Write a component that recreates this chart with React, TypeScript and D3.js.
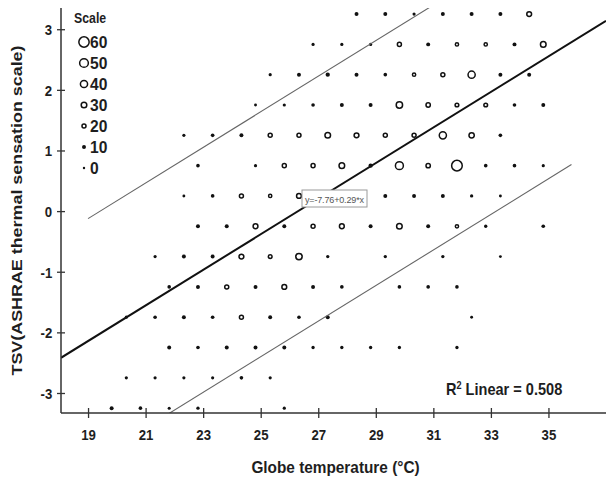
import React, { useEffect, useRef } from 'react';
import * as d3 from 'd3';

// axis ticks
const xTicks = [19, 21, 23, 25, 27, 29, 31, 33, 35];
const yTicks = [-3, -2, -1, 0, 1, 2, 3];
const legendValues = [60, 50, 40, 30, 20, 10, 0];

// binned scatter: one TSV level per row, with the bin temperatures and counts
const tsvRows = [3.25, 2.75, 2.25, 1.75, 1.25, 0.75, 0.25, -0.25, -0.75, -1.25, -1.75, -2.25, -2.75, -3.25];
const rowTemps = [
  [28.33, 29.33, 30.33, 31.33, 32.33, 33.33, 34.33],
  [26.82, 27.82, 28.82, 29.82, 30.82, 31.82, 32.82, 33.82, 34.82],
  [25.33, 26.33, 27.33, 28.33, 29.33, 30.33, 31.33, 32.33, 33.33, 34.33],
  [24.82, 25.82, 26.82, 27.82, 28.82, 29.82, 30.82, 31.82, 32.82, 33.82, 34.82],
  [22.33, 23.33, 24.33, 25.33, 26.33, 27.33, 28.33, 29.33, 30.33, 31.33, 32.33, 33.33],
  [22.82, 24.82, 25.82, 26.82, 27.82, 28.82, 29.82, 30.82, 31.82, 32.82, 33.82, 34.82],
  [22.33, 23.33, 24.33, 25.33, 26.33, 29.33, 30.33, 31.33, 32.33, 33.33],
  [22.82, 23.82, 24.82, 25.82, 26.82, 27.82, 28.82, 29.82, 30.82, 31.82, 32.82, 34.82],
  [21.33, 22.33, 23.33, 24.33, 25.33, 26.33, 27.33, 29.33, 31.33, 33.33],
  [21.82, 22.82, 23.82, 24.82, 25.82, 26.82, 27.82, 29.82, 30.82, 31.82],
  [20.33, 21.33, 22.33, 23.33, 24.33, 25.33, 26.33, 27.33, 32.33],
  [21.82, 22.82, 23.82, 24.82, 25.82, 26.82, 27.82, 28.82, 29.82, 31.82],
  [20.33, 21.33, 22.33, 23.33, 24.33, 25.33],
  [19.82, 20.82, 21.82, 22.82, 25.82],
];
const rowCounts = [
  [10, 10, 5, 10, 10, 10, 25],
  [5, 5, 5, 20, 10, 15, 15, 10, 30],
  [5, 10, 12, 10, 8, 15, 20, 40, 10, 10],
  [3, 5, 8, 10, 10, 35, 22, 18, 18, 8, 10],
  [5, 8, 10, 20, 20, 30, 25, 20, 20, 40, 28, 8],
  [8, 5, 20, 20, 30, 12, 45, 22, 62, 8, 8, 5],
  [3, 8, 20, 15, 25, 10, 10, 10, 6, 3],
  [10, 10, 25, 10, 20, 25, 10, 30, 10, 15, 6, 8],
  [5, 10, 10, 25, 18, 35, 6, 6, 6, 3],
  [8, 10, 20, 10, 25, 10, 8, 8, 8, 8],
  [5, 8, 10, 8, 20, 10, 8, 10, 3],
  [10, 8, 10, 10, 10, 6, 6, 6, 6, 6],
  [5, 5, 5, 5, 8, 5],
  [10, 8, 4, 6, 5],
];

// linear fit and the +/- band drawn around it
const fitIntercept = -7.72;
const fitSlope = 0.2935;
const bandOffset = 2.02;
const bandRange = [19.0, 35.8];
const equationLabel = 'y=-7.76+0.29*x';

const FONT = '"Liberation Sans", Arial, sans-serif';
const SX = 0.88; // the source text is horizontally condensed

const App = () => {
  const ref = useRef<SVGSVGElement | null>(null);

  useEffect(() => {
    if (!ref.current) return;
    const svg = d3.select(ref.current);
    svg.selectAll('*').remove();

    const left = 61, right = 606, top = 8, bottom = 413;
    const x = d3.scaleLinear().domain([18.06, 37.0]).range([left, right]);
    const y = d3.scaleLinear().domain([-3.33, 3.35]).range([bottom, top]);
    const rOut = d3.scaleLinear().domain([0, 60]).range([1.2, 5.9]);

    svg.append('defs').append('clipPath').attr('id', 'plot-clip')
      .append('rect').attr('x', left).attr('y', top)
      .attr('width', right - left).attr('height', bottom - top);

    // condensed bold label
    const label = (sel, tx, ty, str, size, sx = SX, anchor = 'start') =>
      sel.append('text').attr('transform', `translate(${tx},${ty}) scale(${sx},1)`)
        .attr('text-anchor', anchor)
        .style('font-family', FONT).style('font-size', `${size}px`).style('font-weight', 'bold')
        .attr('fill', '#1e1e1e').text(str);

    const drawMark = (sel, cx, cy, n) => {
      const ro = rOut(n);
      if (n < 14) {
        sel.append('circle').attr('cx', cx).attr('cy', cy).attr('r', ro).attr('fill', '#111');
      } else {
        sel.append('circle').attr('cx', cx).attr('cy', cy).attr('r', ro - 0.75)
          .attr('fill', 'none').attr('stroke', '#111').attr('stroke-width', 1.5);
      }
    };

    // points
    const points = tsvRows.flatMap((t, i) =>
      rowTemps[i].map((g, j) => ({ g, t, n: rowCounts[i][j] })));
    const gPts = svg.append('g');
    points.forEach(p => drawMark(gPts, x(p.g), y(p.t), p.n));

    // lines
    const gLines = svg.append('g').attr('clip-path', 'url(#plot-clip)');
    const line = d3.line<number>().x(d => x(d)).y(d => y(fitIntercept + fitSlope * d));
    gLines.append('path').datum(x.domain()).attr('d', line)
      .attr('fill', 'none').attr('stroke', '#111').attr('stroke-width', 2);
    [bandOffset, -bandOffset].forEach(off => {
      const l = d3.line<number>().x(d => x(d)).y(d => y(fitIntercept + off + fitSlope * d));
      gLines.append('path').datum(bandRange).attr('d', l)
        .attr('fill', 'none').attr('stroke', '#666').attr('stroke-width', 1.1);
    });

    // equation label
    const gEq = svg.append('g');
    gEq.append('rect').attr('x', 302).attr('y', 190).attr('width', 65).attr('height', 17)
      .attr('fill', '#fff').attr('stroke', '#9a9a9a').attr('stroke-width', 1);
    gEq.append('text').attr('x', 305).attr('y', 202.5).attr('textLength', 59)
      .style('font-family', FONT).style('font-size', '9px')
      .attr('fill', '#555').text(equationLabel);

    // axes
    const axisColor = '#333';
    const yAxis = svg.append('g').attr('transform', `translate(${left},0)`)
      .call(d3.axisLeft(y).tickValues(yTicks).tickSize(4).tickPadding(6).tickFormat(d3.format('d')));
    yAxis.select('.domain').remove();
    yAxis.selectAll('.tick line').attr('x1', 4).attr('stroke', axisColor).attr('stroke-width', 1.3);
    yAxis.selectAll('text').style('font-family', FONT).style('font-size', '15px')
      .style('font-weight', 'bold').attr('fill', '#1e1e1e').attr('dy', '0.36em')
      .attr('transform', `scale(${SX},1)`)
      .text(d => String(d).replace('−', '-'));

    const xAxis = svg.append('g').attr('transform', `translate(0,${bottom})`)
      .call(d3.axisBottom(x).tickValues(xTicks).tickSize(5));
    xAxis.select('.domain').remove();
    xAxis.selectAll('.tick line').attr('y1', -5).attr('stroke', axisColor).attr('stroke-width', 1.3);
    xAxis.selectAll('text').style('font-family', FONT).style('font-size', '15px')
      .style('font-weight', 'bold').attr('fill', '#1e1e1e').attr('y', 27).attr('dy', 0)
      .attr('transform', `scale(${SX},1)`);

    svg.append('line').attr('x1', left).attr('x2', left).attr('y1', top).attr('y2', bottom)
      .attr('stroke', axisColor).attr('stroke-width', 1.5);
    svg.append('line').attr('x1', left).attr('x2', right).attr('y1', bottom).attr('y2', bottom)
      .attr('stroke', axisColor).attr('stroke-width', 1.5);

    // axis titles
    label(svg, (left + right) / 2 + 2, 473, 'Globe temperature (°C)', 16, 0.96, 'middle');
    svg.append('text').attr('transform', `translate(22,${(top + bottom) / 2}) rotate(-90)`)
      .attr('text-anchor', 'middle').attr('textLength', 330).attr('lengthAdjust', 'spacingAndGlyphs')
      .style('font-family', FONT).style('font-size', '14px').style('font-weight', 'bold')
      .attr('fill', '#1e1e1e').text('TSV(ASHRAE thermal sensation scale)');

    // R squared
    const r2 = svg.append('text').attr('transform', 'translate(446,395) scale(0.91,1)')
      .style('font-family', FONT).style('font-size', '16px').style('font-weight', 'bold').attr('fill', '#1e1e1e');
    r2.append('tspan').text('R');
    r2.append('tspan').attr('dy', -6).style('font-size', '10px').text('2');
    r2.append('tspan').attr('dy', 6).text(' Linear = 0.508');

    // legend
    const gLeg = svg.append('g');
    label(gLeg, 74, 23, 'Scale', 14);
    legendValues.forEach((v, i) => {
      const cy = 42 + i * 21;
      drawMark(gLeg, 84, cy, v);
      label(gLeg, 90, cy + 6, String(v), 17, 0.92);
    });
  }, []);

  return (
    <svg ref={ref} width={606} height={479}
      style={{ position: 'absolute', left: 0, top: 0, background: '#fff' }} />
  );
};

export default App;
